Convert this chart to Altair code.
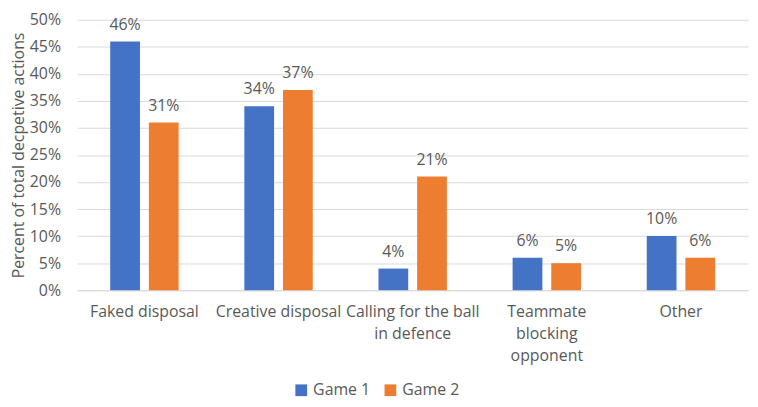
import altair as alt
import pandas as pd

categories = ["Faked disposal", "Creative disposal", "Calling for the ball|in defence",
              "Teammate|blocking|opponent", "Other"]
game1 = [46, 34, 4, 6, 10]
game2 = [31, 37, 21, 5, 6]
series = ["Game 1", "Game 2"]

rows = []
for c, a, b in zip(categories, game1, game2):
    rows.append({"cat": c, "series": "Game 1", "value": a})
    rows.append({"cat": c, "series": "Game 2", "value": b})
df = pd.DataFrame(rows)
df["label"] = df["value"].astype(str) + "%"

FONT = "Open Sans"
GREY = "#595959"
FS = 16

x = alt.X("cat:N", sort=categories, title=None,
          scale=alt.Scale(paddingInner=0.49, paddingOuter=0.245),
          axis=alt.Axis(labelExpr="split(datum.label, '|')", labelAngle=0,
                        labelFontSize=FS, labelColor=GREY, labelFont=FONT,
                        labelLineHeight=22, labelPadding=14, labelOverlap=False,
                        labelBound=False, labelFlush=False,
                        ticks=False, domainColor="#d9d9d9", grid=False))
xo = alt.XOffset("series:N", sort=series, scale=alt.Scale(paddingInner=0.23, paddingOuter=0))
y = alt.Y("value:Q", scale=alt.Scale(domain=[0, 50]),
          title="Percent of total decpetive actions",
          axis=alt.Axis(values=list(range(0, 55, 5)), labelExpr="datum.value + '%'",
                        labelFontSize=FS, labelColor=GREY, labelFont=FONT, labelPadding=17,
                        labelOverlap=False, labelBound=False, labelFlush=False,
                        titleFontSize=FS, titleColor=GREY, titleFont=FONT, titleFontWeight="normal",
                        titlePadding=3,
                        ticks=False, domain=False, gridColor="#d9d9d9"))
color = alt.Color("series:N", sort=series,
                  scale=alt.Scale(domain=series, range=["#4472C4", "#ED7D31"]),
                  legend=alt.Legend(title=None, orient="none", direction="horizontal",
                                    legendX=218, legendY=366, symbolType="square",
                                    symbolSize=140, symbolStrokeWidth=0,
                                    labelFontSize=FS, labelColor=GREY, labelFont=FONT,
                                    columnPadding=12))

base = alt.Chart(df).encode(x=x, xOffset=xo, y=y)
bars = base.mark_bar().encode(color=color)
text = base.mark_text(dy=-17, fontSize=FS, color=GREY, font=FONT).encode(text="label:N")

chart = (bars + text).properties(
    width=677, height=273,
    background="white",
    autosize=alt.AutoSizeParams(type="none"),
    padding={"left": 70, "top": 10, "right": 2, "bottom": 114},
).configure_view(stroke=None)

chart.save("out.html", embed_options={"renderer": "svg", "actions": False})
